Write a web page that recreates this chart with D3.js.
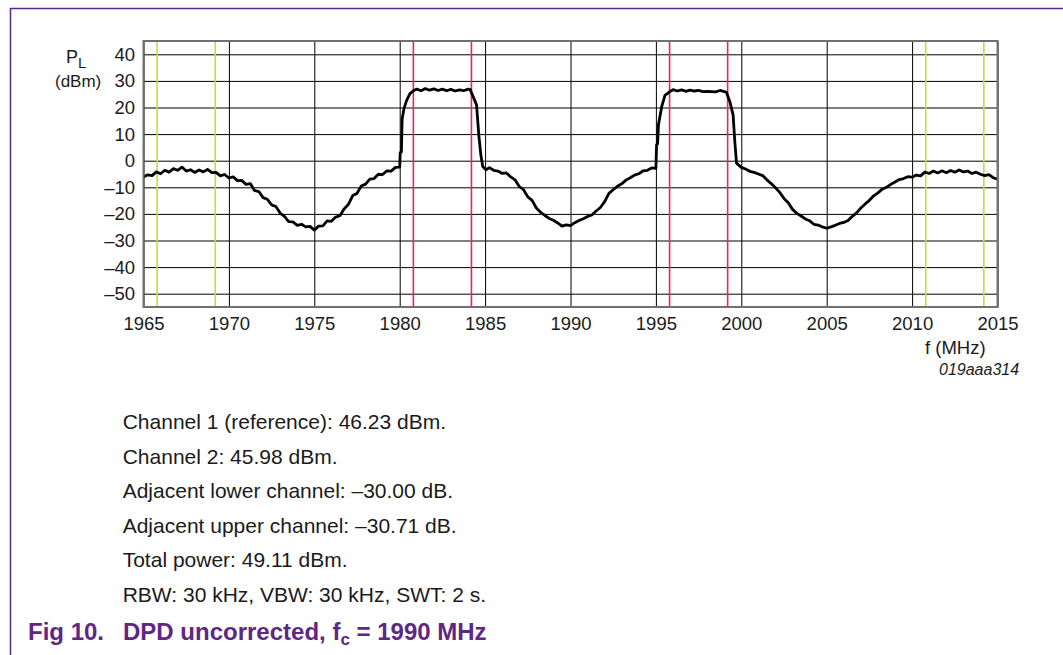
<!DOCTYPE html>
<html>
<head>
<meta charset="utf-8">
<script src="https://cdn.jsdelivr.net/npm/d3@7"></script>
<style>
  body { margin: 0; background: #fff; }
  svg { display: block; font-family: "Liberation Sans", Arial, sans-serif; }
</style>
</head>
<body>
<svg width="1063" height="655"></svg>
<script>
// spectrum trace (MHz, dBm)
const freqMHz = [
  1965, 1965.25, 1965.5, 1965.75, 1966, 1966.25, 1966.5, 1966.75,
  1967, 1967.25, 1967.5, 1967.75, 1968, 1968.25, 1968.5, 1968.75,
  1969, 1969.25, 1969.5, 1969.75, 1970, 1970.25, 1970.5, 1970.75,
  1971, 1971.25, 1971.5, 1971.75, 1972, 1972.25, 1972.5, 1972.75,
  1973, 1973.25, 1973.5, 1973.75, 1974, 1974.25, 1974.5, 1974.75,
  1975, 1975.25, 1975.5, 1975.75, 1976, 1976.25, 1976.5, 1976.75,
  1977, 1977.25, 1977.5, 1977.75, 1978, 1978.25, 1978.5, 1978.75,
  1979, 1979.25, 1979.5, 1979.75, 1980,
  1980.03, 1980.1, 1980.14, 1980.25, 1980.4, 1980.6, 1980.85,
  1981, 1981.25, 1981.5, 1981.75, 1982, 1982.25, 1982.5, 1982.75,
  1983, 1983.25, 1983.5, 1983.75, 1984, 1984.12,
  1984.3, 1984.5, 1984.63, 1984.75, 1984.86, 1985.05, 1985.25, 1985.5,
  1985.75, 1986, 1986.25, 1986.5, 1986.75, 1987, 1987.25, 1987.5,
  1987.75, 1988, 1988.25, 1988.5, 1988.75, 1989, 1989.25, 1989.5,
  1989.75, 1990, 1990.25, 1990.5, 1990.75, 1991, 1991.25, 1991.5,
  1991.75, 1992, 1992.25, 1992.5, 1992.75, 1993, 1993.25, 1993.5,
  1993.75, 1994, 1994.25, 1994.5, 1994.75, 1995,
  1995.04, 1995.1, 1995.15, 1995.34, 1995.53, 1995.82,
  1996, 1996.25, 1996.5, 1996.75, 1997, 1997.25, 1997.5, 1997.75,
  1998, 1998.25, 1998.5, 1998.75, 1999, 1999.13,
  1999.33, 1999.52, 1999.62, 1999.72,
  2000, 2000.25, 2000.5, 2000.75, 2001, 2001.25, 2001.5, 2001.75,
  2002, 2002.25, 2002.5, 2002.75, 2003, 2003.25, 2003.5, 2003.75,
  2004, 2004.25, 2004.5, 2004.75, 2005, 2005.25, 2005.5, 2005.75,
  2006, 2006.25, 2006.5, 2006.75, 2007, 2007.25, 2007.5, 2007.75,
  2008, 2008.25, 2008.5, 2008.75, 2009, 2009.25, 2009.5, 2009.75,
  2010, 2010.25, 2010.5, 2010.75, 2011, 2011.25, 2011.5, 2011.75,
  2012, 2012.25, 2012.5, 2012.75, 2013, 2013.25, 2013.5, 2013.75,
  2014, 2014.25, 2014.5, 2014.75, 2015
];
const levelDbm = [
  -6.1, -5.3, -5.6, -4.2, -4.9, -3.6, -4.3, -3.0,
  -3.6, -2.4, -3.9, -3.4, -4.4, -3.5, -4.2, -3.3,
  -4.5, -4.4, -5.7, -5.2, -6.5, -6.1, -7.5, -7.4,
  -8.9, -8.6, -11.2, -11.6, -13.9, -14.5, -16.6, -17.2,
  -19.7, -20.9, -22.9, -23.0, -24.3, -23.9, -24.9, -24.7,
  -26.1, -24.6, -24.5, -22.6, -22.8, -21.2, -20.7, -18.1,
  -16.4, -13.1, -12.3, -9.5, -8.8, -6.9, -6.7, -5.1,
  -5.2, -3.8, -3.9, -2.5, -2.4,
  3.0, 3.3, 15.5, 19.6, 22.6, 25.2, 26.5,
  26.9, 26.3, 27.1, 26.5, 27.0, 26.4, 26.9, 26.3,
  26.8, 26.2, 26.6, 26.3, 26.9, 26.8,
  24.1, 21.0, 9.7, 2.2, -2.2, -3.4, -2.6, -3.6,
  -3.9, -4.8, -4.6, -6.1, -7.2, -9.7, -10.9, -13.6,
  -14.9, -17.8, -19.4, -20.6, -21.7, -22.4, -23.4, -24.6,
  -24.1, -24.4, -23.3, -22.5, -21.8, -21.0, -20.4, -18.9,
  -17.6, -15.4, -12.3, -10.9, -9.6, -8.7, -7.3, -6.4,
  -5.4, -4.9, -3.8, -3.6, -2.7, -2.9,
  6.0, 6.4, 13.5, 20.3, 24.6, 26.0,
  26.7, 26.2, 26.6, 26.1, 26.5, 26.2, 26.4, 26.0,
  26.1, 26.0, 25.9, 26.4, 26.0, 25.7,
  22.2, 17.2, 7.2, -0.9,
  -2.5, -3.1, -4.0, -4.4, -5.0, -5.6, -7.2, -8.6,
  -10.2, -11.9, -14.2, -15.8, -18.3, -19.8, -20.8, -21.9,
  -22.6, -23.9, -24.2, -24.9, -25.4, -24.9, -24.3, -23.6,
  -23.2, -22.5, -20.9, -19.6, -17.8, -16.3, -14.9, -13.2,
  -12.1, -10.7, -10.0, -8.9, -8.0, -7.1, -6.7, -6.0,
  -6.2, -5.4, -5.7, -4.3, -4.8, -3.9, -4.6, -3.8,
  -4.5, -3.7, -4.3, -3.5, -4.2, -3.9, -4.8, -4.3,
  -5.1, -5.6, -5.2, -6.4, -6.9
];

const xTicks = [1965, 1970, 1975, 1980, 1985, 1990, 1995, 2000, 2005, 2010, 2015];
const yTicks = [-50, -40, -30, -20, -10, 0, 10, 20, 30, 40];

// channel limits (red) and adjacent channel limits (yellow)
const channelEdges = [1980.8, 1984.2, 1995.8, 1999.2];
const adjacentEdges = [1965.8, 1969.2, 2010.8, 2014.2];

const notes = [
  'Channel 1 (reference): 46.23 dBm.',
  'Channel 2: 45.98 dBm.',
  'Adjacent lower channel: \u201330.00 dB.',
  'Adjacent upper channel: \u201330.71 dB.',
  'Total power: 49.11 dBm.',
  'RBW: 30 kHz, VBW: 30 kHz, SWT: 2 s.'
];

const purple = '#5e2784';
const marginLeft = 143.5;
const marginTop = 41;
const width = 854;
const height = 266;

const svg = d3.select('svg');

// figure frame (top and left rule)
svg.append('path')
    .attr('d', 'M10.5,655 V8.5 H1063')
    .attr('fill', 'none')
    .attr('stroke', purple)
    .attr('stroke-width', 1.5);

const chart = svg.append('g')
    .attr('transform', `translate(${marginLeft}, ${marginTop})`);

const x = d3.scaleLinear().domain([1965, 2015]).range([0, width]);
const y = d3.scaleLinear().domain([-55, 45]).range([height, 0]);

const fmt = d => (d < 0 ? '\u2013' + Math.abs(d) : String(d));

const yAxis = chart.append('g')
    .call(d3.axisLeft(y).tickValues(yTicks).tickSize(-width).tickPadding(8.5).tickFormat(fmt));

const xAxis = chart.append('g')
    .attr('transform', `translate(0, ${height})`)
    .call(d3.axisBottom(x).tickValues(xTicks).tickSize(-height).tickPadding(10).tickFormat(d3.format('d')));

[xAxis, yAxis].forEach(a => {
  a.select('.domain').remove();
  a.selectAll('.tick line').attr('stroke', '#000').attr('stroke-width', 1);
  a.selectAll('.tick text')
      .attr('fill', '#1a1a1a')
      .style('font-size', '18.5px')
      .style('font-family', '"Liberation Sans", Arial, sans-serif');
});

chart.selectAll('.chan')
    .data(channelEdges)
    .enter()
    .append('line')
    .attr('x1', d => x(d))
    .attr('x2', d => x(d))
    .attr('y1', 0)
    .attr('y2', height)
    .attr('stroke', '#ea2460')
    .attr('stroke-width', 1.6);

chart.selectAll('.adj')
    .data(adjacentEdges)
    .enter()
    .append('line')
    .attr('x1', d => x(d))
    .attr('x2', d => x(d))
    .attr('y1', 0)
    .attr('y2', height)
    .attr('stroke', '#c8dc3a')
    .attr('stroke-width', 1.6);

const line = d3.line()
    .x((d, i) => x(freqMHz[i]))
    .y(d => y(d));

chart.append('path')
    .datum(levelDbm)
    .attr('d', line)
    .attr('fill', 'none')
    .attr('stroke', '#000')
    .attr('stroke-width', 2.8)
    .attr('stroke-linejoin', 'round');

chart.append('rect')
    .attr('width', width)
    .attr('height', height)
    .attr('fill', 'none')
    .attr('stroke', '#707070')
    .attr('stroke-width', 2);

// axis titles
const pl = svg.append('text')
    .attr('x', 66)
    .attr('y', 63)
    .attr('fill', '#1a1a1a')
    .style('font-size', '18px')
    .text('P');
pl.append('tspan')
    .attr('dy', 5)
    .style('font-size', '15px')
    .text('L');

svg.append('text')
    .attr('x', 55)
    .attr('y', 87)
    .attr('fill', '#1a1a1a')
    .style('font-size', '17px')
    .text('(dBm)');

svg.append('text')
    .attr('x', 925)
    .attr('y', 354)
    .attr('fill', '#1a1a1a')
    .style('font-size', '18.5px')
    .text('f (MHz)');

svg.append('text')
    .attr('x', 939)
    .attr('y', 375)
    .attr('fill', '#1a1a1a')
    .style('font-size', '16px')
    .style('font-style', 'italic')
    .text('019aaa314');

svg.selectAll('.note')
    .data(notes)
    .enter()
    .append('text')
    .attr('x', 122.7)
    .attr('y', (d, i) => 429 + i * 34.6)
    .attr('fill', '#1a1a1a')
    .style('font-size', '21px')
    .text(d => d);

// caption
svg.append('text')
    .attr('x', 28)
    .attr('y', 640)
    .attr('fill', purple)
    .style('font-size', '24px')
    .style('font-weight', 'bold')
    .text('Fig 10.');

const cap = svg.append('text')
    .attr('x', 123)
    .attr('y', 640)
    .attr('fill', purple)
    .style('font-size', '24px')
    .style('font-weight', 'bold')
    .text('DPD uncorrected, f');
cap.append('tspan')
    .attr('dy', 5)
    .style('font-size', '17px')
    .text('c');
cap.append('tspan')
    .attr('dy', -5)
    .text(' = 1990 MHz');
</script>
</body>
</html>
